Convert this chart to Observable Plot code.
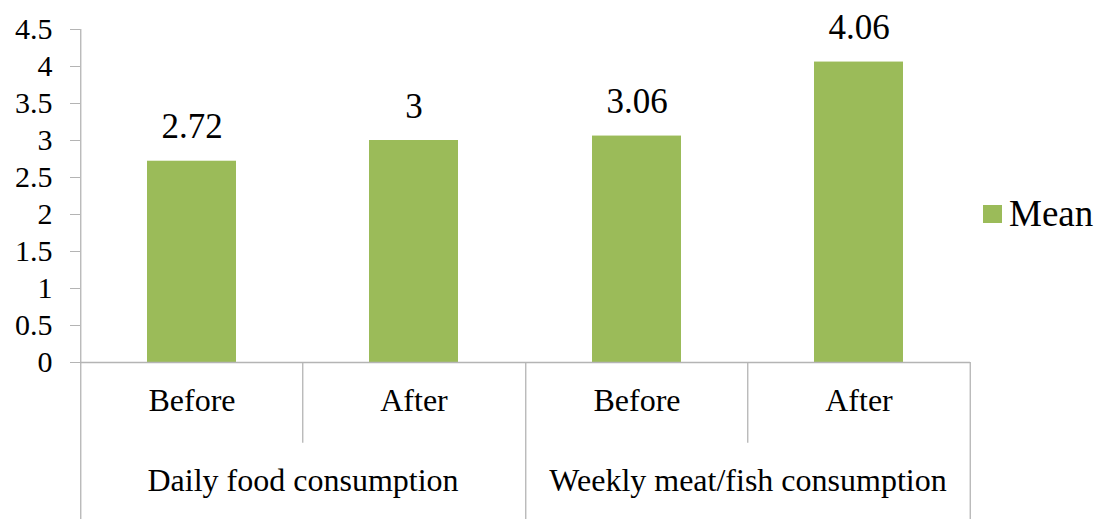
<!DOCTYPE html>
<html>
<head>
<meta charset="utf-8">
<script src="https://cdn.jsdelivr.net/npm/d3@7"></script>
<script src="https://cdn.jsdelivr.net/npm/@observablehq/plot@0.6"></script>
<style>
  html, body { margin: 0; padding: 0; background: #fff; }
  #wrap { position: relative; width: 1095px; height: 519px; font-family: "Liberation Serif", "Times New Roman", "DejaVu Serif", serif; }
  #wrap svg, #wrap svg text { font-family: "Liberation Serif", "Times New Roman", "DejaVu Serif", serif !important; }
  #legend { position: absolute; left: 983px; top: 192px; display: flex; align-items: center; font-size: 37px; color: #000; }
  #legend .sw { width: 19px; height: 18px; margin-right: 7px; }
</style>
</head>
<body>
<div id="wrap"><div id="legend"></div></div>
<script>
// ---- data ----
const groups = ["Daily food consumption", "Weekly meat/fish consumption"];
const periods = ["Before", "After"];
const means = [2.72, 3, 3.06, 4.06];
const valueLabels = ["2.72", "3", "3.06", "4.06"];
const yTicks = [0, 0.5, 1, 1.5, 2, 2.5, 3, 3.5, 4, 4.5];
const seriesName = ["Mean"];
const barColor = "#9bbb59";

const data = groups.flatMap((g, i) => periods.map((p, j) => ({
  group: g, period: p, mean: means[i * 2 + j], label: valueLabels[i * 2 + j]
})));

// ---- layout ----
const W = 1095, H = 519, mL = 80, mR = 125, mT = 29, mB = 157;
const step = (W - mL - mR) / (groups.length * periods.length);
const gray = "#b4b4b4";
const font = "'Liberation Serif', 'Times New Roman', 'DejaVu Serif', serif";

// separator definitions (category boundaries), in data terms
const innerSeps = groups.map(g => ({group: g, period: periods[1], top: 0, bottom: -1.09}));
const leftEdges = groups.map((g, i) => ({group: g, period: periods[0], top: i === 0 ? 4.5 : 0, bottom: -2.3}));
const rightEdge = [{group: groups[groups.length - 1], period: periods[periods.length - 1], top: 0, bottom: -2.3}];

const chart = Plot.plot({
  width: W, height: H,
  marginLeft: mL, marginRight: mR, marginTop: mT, marginBottom: mB,
  style: {fontFamily: font, background: "white", color: "#000"},
  fx: {domain: groups, padding: 0, axis: null},
  x: {domain: periods, paddingInner: 0.6, paddingOuter: 0.3, axis: null},
  y: {domain: [0, 4.5]},
  marks: [
    Plot.axisY({ticks: yTicks, tickFormat: d3.format(""), tickSize: 10, tickPadding: 18,
      stroke: gray, fill: "#000", fontSize: 30}),
    Plot.barY(data, {fx: "group", x: "period", y: "mean", fill: barColor}),
    Plot.ruleY([0], {stroke: gray, strokeWidth: 1.3}),
    Plot.ruleX(innerSeps, {fx: "group", x: "period", y1: "top", y2: "bottom", dx: -step / 2, stroke: gray, strokeWidth: 1.3}),
    Plot.ruleX(leftEdges, {fx: "group", x: "period", y1: "top", y2: "bottom", dx: -step / 2, stroke: gray, strokeWidth: 1.3}),
    Plot.ruleX(rightEdge, {fx: "group", x: "period", y1: "top", y2: "bottom", dx: step / 2, stroke: gray, strokeWidth: 1.3}),
    Plot.text(data, {fx: "group", x: "period", y: "mean", text: "label", dy: -34, fontSize: 35, fill: "#000"}),
    Plot.text(data, {fx: "group", x: "period", text: "period", frameAnchor: "bottom", dy: 48, fontSize: 32, fill: "#000"}),
    Plot.text(groups, {fx: d => d, text: d => d, frameAnchor: "bottom", dy: 128, fontSize: 32, fill: "#000"})
  ]
});
document.getElementById("wrap").prepend(chart);

// legend
const leg = document.getElementById("legend");
seriesName.forEach(name => {
  const sw = document.createElement("span");
  sw.className = "sw";
  sw.style.background = barColor;
  const t = document.createElement("span");
  t.textContent = name;
  leg.append(sw, t);
});
</script>
</body>
</html>
